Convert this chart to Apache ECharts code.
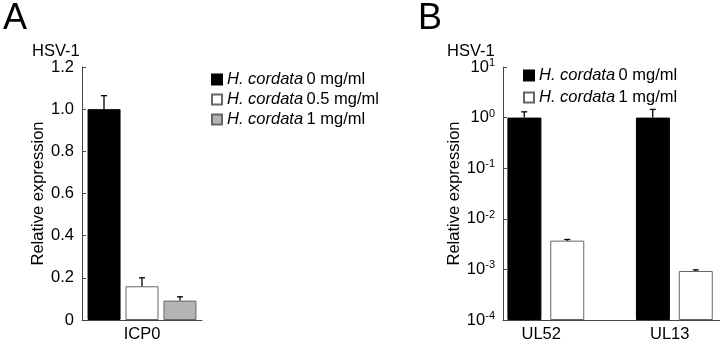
<!DOCTYPE html>
<html>
<head>
<meta charset="utf-8">
<script src="https://cdn.jsdelivr.net/npm/echarts@6/dist/echarts.min.js"></script>
<style>
  html, body { margin: 0; padding: 0; background: #fff; }
  #chart { width: 720px; height: 340px; }
</style>
</head>
<body>
<div id="chart"></div>
<script>
// panel A: ICP0, linear axis
const catA = ['ICP0'];
const meanA0 = [1.0];
const meanA05 = [0.16];
const meanA1 = [0.092];
const upA0 = [1.064];
const upA05 = [0.20];
const upA1 = [0.11];
const ticksA = [0, 0.2, 0.4, 0.6, 0.8, 1.0, 1.2];

// panel B: UL52 / UL13, log axis 1e-4 .. 1e1
const catB = ['UL52', 'UL13'];
const meanB0 = [1.0, 1.0];
const meanB1 = [0.0037, 0.00093];
const upB0 = [1.3, 1.45];
const upB1 = [0.0039, 0.00098];
const spacerB = [null, null];
const logMin = -4;
const logMax = 1;

const labelsA = ['0 mg/ml', '0.5 mg/ml', '1 mg/ml'];
const labelsB = ['0 mg/ml', '1 mg/ml'];

const FONT = '"Liberation Sans", Arial, sans-serif';
const FS = 16.5;
const EDGE = '#666';

const toLog = v => Math.log10(v) - logMin;

const chart = echarts.init(document.getElementById('chart'), null, {renderer: 'canvas'});

function errRender(offset) {
  return function (params, api) {
    const base = api.coord([api.value(0), api.value(1)]);
    const top = api.coord([api.value(0), api.value(2)]);
    const x = base[0] + offset;
    const st = {stroke: '#000', lineWidth: 1.3};
    return {
      type: 'group',
      children: [
        {type: 'line', shape: {x1: x, y1: base[1], x2: x, y2: top[1]}, style: st},
        {type: 'line', shape: {x1: x - 3, y1: top[1], x2: x + 3, y2: top[1]}, style: st}
      ]
    };
  };
}

function errData(means, ups, fn) {
  return means.map((m, i) => [i, fn ? fn(m) : m, fn ? fn(ups[i]) : ups[i]]);
}

const legendRich = {i: {fontStyle: 'italic', fontSize: FS, fontFamily: FONT}, t: {fontSize: FS, fontFamily: FONT}};
const legendName = {
  A0: labelsA[0], A05: labelsA[1], A1: labelsA[2],
  B0: labelsB[0], B1: labelsB[1]
};

const yAxisBase = {
  axisLine: {show: true, lineStyle: {color: '#444', width: 1}},
  axisTick: {show: true, inside: true, length: 4, lineStyle: {color: '#444'}},
  splitLine: {show: false},
  nameLocation: 'middle',
  nameTextStyle: {fontSize: FS, color: '#000', fontFamily: FONT}
};

const option = {
  animation: false,
  textStyle: {fontFamily: FONT},
  graphic: [
    {type: 'text', left: 3, top: 1, style: {text: 'A', fontSize: 36, fill: '#000', fontFamily: FONT}},
    {type: 'text', left: 418, top: 1, style: {text: 'B', fontSize: 36, fill: '#000', fontFamily: FONT}},
    {type: 'text', left: 32, top: 43, style: {text: 'HSV-1', fontSize: FS, fill: '#000', fontFamily: FONT}},
    {type: 'text', left: 447, top: 43, style: {text: 'HSV-1', fontSize: FS, fill: '#000', fontFamily: FONT}}
  ],
  legend: [
    {
      data: ['A0', 'A05', 'A1'], orient: 'vertical', left: 206, top: 66, icon: 'rect',
      itemWidth: 10, itemHeight: 10, itemGap: 3, selectedMode: false,
      formatter: n => '{i|H. cordata} {t|' + legendName[n] + '}',
      textStyle: {color: '#000', rich: legendRich}
    },
    {
      data: ['B0', 'B1'], orient: 'vertical', left: 518, top: 62, icon: 'rect',
      itemWidth: 10, itemHeight: 10, itemGap: 5, selectedMode: false,
      formatter: n => '{i|H. cordata} {t|' + legendName[n] + '}',
      textStyle: {color: '#000', rich: legendRich}
    }
  ],
  grid: [
    {left: 82, top: 67, width: 120, height: 253, outerBoundsMode: 'none'},
    {left: 503, top: 67, width: 257, height: 253, outerBoundsMode: 'none'}
  ],
  xAxis: [
    {
      gridIndex: 0, type: 'category', data: catA,
      axisLine: {lineStyle: {color: '#444'}}, axisTick: {show: false},
      axisLabel: {fontSize: FS, color: '#000', margin: 6}
    },
    {
      gridIndex: 1, type: 'category', data: catB,
      axisLine: {lineStyle: {color: '#444'}}, axisTick: {show: false},
      axisLabel: {fontSize: FS, color: '#000', margin: 6, padding: [0, 52, 0, 0]}
    }
  ],
  yAxis: [
    Object.assign({}, yAxisBase, {
      gridIndex: 0, type: 'value', min: ticksA[0], max: ticksA[ticksA.length - 1], interval: 0.2,
      name: 'Relative expression', nameGap: 35,
      axisLabel: {fontSize: FS, color: '#000', margin: 8, formatter: v => v === 0 ? '0' : v.toFixed(1)}
    }),
    Object.assign({}, yAxisBase, {
      gridIndex: 1, type: 'value', min: 0, max: logMax - logMin, interval: 1,
      name: 'Relative expression', nameGap: 39,
      axisLabel: {
        color: '#000', margin: 8,
        formatter: v => '{b|10}{s|' + (v + logMin) + '}',
        rich: {
          b: {fontSize: FS, lineHeight: 19, fontFamily: FONT},
          s: {fontSize: 11, lineHeight: 11, verticalAlign: 'top', fontFamily: FONT}
        }
      }
    })
  ],
  series: [
    {name: 'A0', type: 'bar', xAxisIndex: 0, yAxisIndex: 0, data: meanA0, barWidth: 33, barGap: '15%',
      itemStyle: {color: '#000', borderColor: '#000', borderWidth: 1}},
    {name: 'A05', type: 'bar', xAxisIndex: 0, yAxisIndex: 0, data: meanA05, barWidth: 33, barGap: '15%',
      itemStyle: {color: '#fff', borderColor: EDGE, borderWidth: 1}},
    {name: 'A1', type: 'bar', xAxisIndex: 0, yAxisIndex: 0, data: meanA1, barWidth: 33, barGap: '15%',
      itemStyle: {color: '#b4b4b4', borderColor: EDGE, borderWidth: 1}},
    {type: 'custom', xAxisIndex: 0, yAxisIndex: 0, renderItem: errRender(-38), data: errData(meanA0, upA0), z: 3},
    {type: 'custom', xAxisIndex: 0, yAxisIndex: 0, renderItem: errRender(0), data: errData(meanA05, upA05), z: 3},
    {type: 'custom', xAxisIndex: 0, yAxisIndex: 0, renderItem: errRender(38), data: errData(meanA1, upA1), z: 3},

    {name: 'B0', type: 'bar', xAxisIndex: 1, yAxisIndex: 1, data: meanB0.map(toLog), barWidth: 34, barGap: '26%',
      itemStyle: {color: '#000', borderColor: '#000', borderWidth: 1}},
    {name: 'B1', type: 'bar', xAxisIndex: 1, yAxisIndex: 1, data: meanB1.map(toLog), barWidth: 34, barGap: '26%',
      itemStyle: {color: '#fff', borderColor: EDGE, borderWidth: 1}},
    // empty slot so the pair sits left of the category centre, as in the figure
    {name: 'spacer', type: 'bar', xAxisIndex: 1, yAxisIndex: 1, data: spacerB, barWidth: 34, barGap: '26%', silent: true},
    {type: 'custom', xAxisIndex: 1, yAxisIndex: 1, renderItem: errRender(-43), data: errData(meanB0, upB0, toLog), z: 3},
    {type: 'custom', xAxisIndex: 1, yAxisIndex: 1, renderItem: errRender(0), data: errData(meanB1, upB1, toLog), z: 3}
  ]
};

chart.setOption(option);
</script>
</body>
</html>
